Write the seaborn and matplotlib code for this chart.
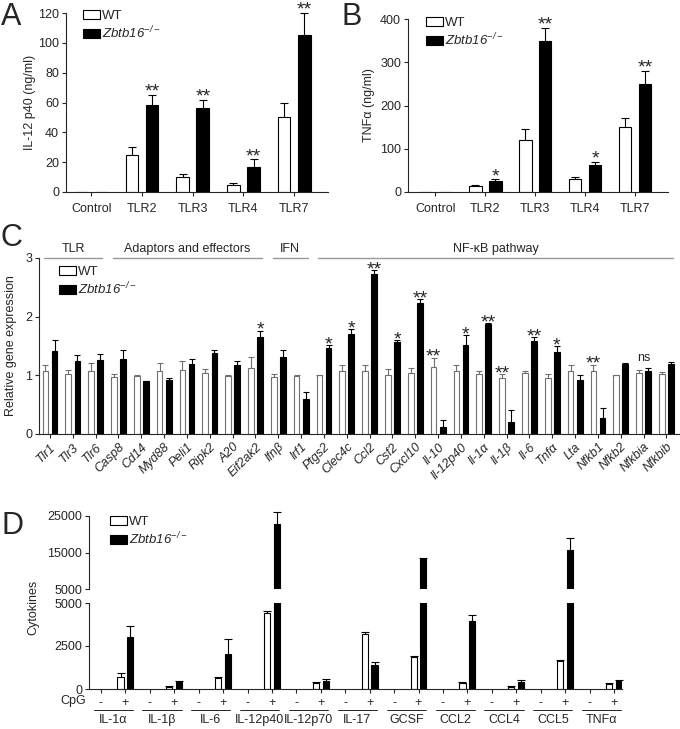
import numpy as np
import pandas as pd
import seaborn as sns
import matplotlib.pyplot as plt
import matplotlib.transforms as mtransforms
from matplotlib.patches import Patch

# ---- panel A / B: TLR stimulation ----
tlr_groups = ["Control", "TLR2", "TLR3", "TLR4", "TLR7"]
il12_wt = [0.3, 25, 10, 5, 50]
il12_wt_err = [0, 5, 2, 1, 10]
il12_ko = [0, 58, 56, 17, 105]
il12_ko_err = [0, 7, 6, 5, 15]
il12_sig = ["", "**", "**", "**", "**"]

tnf_wt = [0, 15, 120, 30, 150]
tnf_wt_err = [0, 2, 25, 5, 20]
tnf_ko = [0, 25, 350, 62, 250]
tnf_ko_err = [0, 4, 30, 8, 30]
tnf_sig = ["", "*", "**", "*", "**"]

# ---- panel C: relative gene expression ----
genes = ["Tlr1", "Tlr3", "Tlr6", "Casp8", "Cd14", "Myd88", "Peli1", "Ripk2", "A20",
         "Eif2ak2", "Ifnβ", "Irf1", "Ptgs2", "Clec4c", "Ccl2", "Csf2", "Cxcl10",
         "Il-10", "Il-12p40", "Il-1α", "Il-1β", "Il-6", "Tnfα", "Lta", "Nfkb1",
         "Nfkb2", "Nfkbia", "Nfkbib"]
gene_wt = [1.07, 1.02, 1.07, 0.97, 0.99, 1.07, 1.09, 1.04, 0.99, 1.12, 0.97, 0.99, 1.0, 1.07,
           1.07, 1.0, 1.04, 1.14, 1.07, 1.02, 0.96, 1.04, 0.96, 1.07, 1.07, 1.0, 1.04, 1.02]
gene_wt_err = [0.11, 0.07, 0.14, 0.05, 0.01, 0.14, 0.15, 0.06, 0.01, 0.19, 0.05, 0.01, 0.01, 0.11,
               0.11, 0.1, 0.09, 0.16, 0.11, 0.06, 0.06, 0.04, 0.07, 0.11, 0.11, 0.01, 0.05, 0.03]
gene_ko = [1.42, 1.25, 1.26, 1.28, 0.9, 0.92, 1.19, 1.38, 1.18, 1.66, 1.31, 0.59, 1.46, 1.7,
           2.73, 1.56, 2.23, 0.12, 1.52, 1.88, 0.2, 1.59, 1.39, 0.92, 0.28, 1.19, 1.08, 1.19]
gene_ko_err = [0.19, 0.1, 0.1, 0.15, 0.01, 0.04, 0.09, 0.05, 0.07, 0.1, 0.12, 0.13, 0.05, 0.09,
               0.06, 0.04, 0.07, 0.12, 0.16, 0.01, 0.21, 0.06, 0.11, 0.08, 0.16, 0.02, 0.05, 0.04]
gene_sig = ["", "", "", "", "", "", "", "", "", "*", "", "", "*", "*", "**", "*", "**",
            "**", "*", "**", "**", "**", "*", "", "**", "", "ns", ""]
gene_groups = ["TLR", "Adaptors and effectors", "IFN", "NF-κB pathway"]
gene_group_sizes = [3, 7, 2, 16]

# ---- panel D: cytokines after CpG ----
cytokines = ["IL-1α", "IL-1β", "IL-6", "IL-12p40", "IL-12p70", "IL-17", "GCSF",
             "CCL2", "CCL4", "CCL5", "TNFα"]
cyt_wt = [715, 116, 640, 4420, 350, 3200, 1860, 350, 120, 1630, 290]
cyt_wt_err = [215, 30, 60, 130, 60, 100, 80, 50, 30, 60, 50]
cyt_ko = [3040, 425, 2030, 22800, 465, 1400, 13200, 3950, 400, 15700, 470]
cyt_ko_err = [620, 55, 870, 3200, 115, 170, 300, 350, 150, 3300, 40]
cyt_upper_ticks = [5000, 15000, 25000]
cyt_lower_ticks = [0, 2500, 5000]

sns.set_style("ticks")
plt.rcParams["font.family"] = ["Liberation Sans", "DejaVu Sans"]
plt.rcParams["mathtext.fontset"] = "custom"
plt.rcParams["mathtext.rm"] = "Liberation Sans:italic"
plt.rcParams["mathtext.it"] = "Liberation Sans:italic"
plt.rcParams["font.size"] = 9
plt.rcParams["axes.linewidth"] = 0.8

W, H = 680, 729
fig = plt.figure(figsize=(W / 100, H / 100), dpi=100)


def add_ax(x0, x1, ytop, ybot):
    return fig.add_axes([x0 / W, 1 - ybot / H, (x1 - x0) / W, (ybot - ytop) / H])


def bars(ax, cats, wt, ko, order=None):
    df = pd.DataFrame({"cat": list(cats) * 2,
                       "val": list(wt) + list(ko),
                       "geno": ["WT"] * len(cats) + ["KO"] * len(cats)})
    sns.barplot(data=df, x="cat", y="val", hue="geno", order=order or list(cats),
                hue_order=["WT", "KO"], palette={"WT": "white", "KO": "black"},
                edgecolor="black", linewidth=0.8, width=0.8, gap=0.375,
                errorbar=None, legend=False, ax=ax)
    xs = [sorted(p.get_x() + p.get_width() / 2 for p in c) for c in ax.containers[:2]]
    return np.array(xs[0]), np.array(xs[1])


def errs(ax, xs, ys, es, color="black", cap=6, keep=None):
    xs, ys, es = np.asarray(xs), np.asarray(ys, float), np.asarray(es, float)
    m = es > 0
    if keep is not None:
        m &= keep
    ax.vlines(xs[m], ys[m], ys[m] + es[m], color=color, lw=0.8, clip_on=False, zorder=3)
    ax.plot(xs[m], ys[m] + es[m], ls="none", marker="_", ms=cap, mew=0.8, color=color,
            clip_on=False, zorder=3)


def star(ax, x, y, s, off=-1.3):
    if s == "ns":
        ax.annotate(s, (x, y), xytext=(0, 4.5), textcoords="offset points",
                    ha="center", va="baseline", fontsize=9)
    elif s:
        ax.annotate(s, (x, y), xytext=(0, off), textcoords="offset points",
                    ha="center", va="baseline", fontsize=14)


def legend(ax, x, y):
    handles = [Patch(facecolor="white", edgecolor="black", lw=0.8),
               Patch(facecolor="black", edgecolor="black", lw=0.8)]
    ax.legend(handles, ["WT", r"$Zbtb16^{-/-}$"], loc="upper left",
              bbox_to_anchor=(x / W, 1 - y / H), bbox_transform=fig.transFigure,
              frameon=False, fontsize=9.5, handlelength=1.3, handleheight=0.6,
              handletextpad=0.15, labelspacing=0.2, borderpad=0, borderaxespad=0)


def style(ax):
    sns.despine(ax=ax)
    ax.tick_params(length=3, width=0.8, labelsize=9, pad=2)
    ax.set_xlabel("")


# ---- A ----
axA = add_ax(66, 328, 13, 192)
xw, xk = bars(axA, tlr_groups, il12_wt, il12_ko)
errs(axA, xw, il12_wt, il12_wt_err)
errs(axA, xk, il12_ko, il12_ko_err)
for x, v, e, s in zip(xk, il12_ko, il12_ko_err, il12_sig):
    star(axA, x, v + e, s)
axA.set_ylim(0, 120)
axA.set_yticks([0, 20, 40, 60, 80, 100, 120])
axA.set_xlim(-0.5, 4.67)
style(axA)
axA.tick_params(axis="x", pad=5)
axA.set_ylabel("IL-12 p40 (ng/ml)", fontsize=9)
axA.yaxis.set_label_coords(-0.115, 0.5)
legend(axA, 83, 10)

# ---- B ----
axB = add_ax(408, 668, 19, 192)
xw, xk = bars(axB, tlr_groups, tnf_wt, tnf_ko)
errs(axB, xw, tnf_wt, tnf_wt_err)
errs(axB, xk, tnf_ko, tnf_ko_err)
for x, v, e, s in zip(xk, tnf_ko, tnf_ko_err, tnf_sig):
    star(axB, x, v + e, s)
axB.set_ylim(0, 400)
axB.set_yticks([0, 100, 200, 300, 400])
axB.set_xlim(-0.55, 4.66)
style(axB)
axB.tick_params(axis="x", pad=5)
axB.set_ylabel("TNFα (ng/ml)", fontsize=9)
axB.yaxis.set_label_coords(-0.127, 0.5)
legend(axB, 426, 17)

# ---- C ----
axC = add_ax(39, 679, 258, 434)
xw, xk = bars(axC, genes, gene_wt, gene_ko)
for p in axC.containers[0]:
    p.set_edgecolor("#707070")
errs(axC, xw, gene_wt, gene_wt_err, color="#707070", cap=4)
errs(axC, xk, gene_ko, gene_ko_err, cap=4)
for i, s in enumerate(gene_sig):
    tw = gene_wt[i] + gene_wt_err[i]
    tk = gene_ko[i] + gene_ko_err[i]
    if s == "ns":
        star(axC, (xw[i] + xk[i]) / 2, max(tw, tk), s)
    elif tk >= tw:
        star(axC, xk[i], tk, s, off=-3)
    else:
        star(axC, xw[i], tw, s, off=-3)
axC.set_ylim(0, 3)
axC.set_yticks([0, 1, 2, 3])
axC.set_xlim(-0.48, 27.55)
style(axC)
axC.set_xticks(range(len(genes)))
axC.set_xticklabels(genes, rotation=45, ha="right", rotation_mode="anchor",
                    fontstyle="italic", fontsize=9)
axC.set_ylabel("Relative gene expression", fontsize=9)
axC.yaxis.set_label_coords(-0.034, 0.5)
start = 0
for name, n in zip(gene_groups, gene_group_sizes):
    a, b = start - 0.25, start + n - 1 + 0.3
    axC.plot([a, b], [3, 3], color="#999999", lw=1.0, clip_on=False)
    axC.text((a + b) / 2, 3.05, name, ha="center", va="bottom", fontsize=9)
    start += n
legend(axC, 59, 266)

# ---- D (broken axis) ----
pos_order = []
for c in cytokines:
    pos_order += [c + " -", c + " +"]
plus = [c + " +" for c in cytokines]
axDu = add_ax(89, 622, 516, 589)
axDl = add_ax(89, 622, 603, 689)
for ax in (axDu, axDl):
    xw, xk = bars(ax, plus, cyt_wt, cyt_ko, order=pos_order)
    ax.set_xlim(-0.49, 21.33)
    style(ax)
wt_arr, ko_arr = np.array(cyt_wt), np.array(cyt_ko)
errs(axDl, xw, cyt_wt, cyt_wt_err, keep=wt_arr < 5000)
errs(axDl, xk, cyt_ko, cyt_ko_err, keep=ko_arr < 5000)
errs(axDu, xk, cyt_ko, cyt_ko_err, keep=ko_arr >= 5000)
errs(axDu, xw, cyt_wt, cyt_wt_err, keep=wt_arr >= 5000)

axDu.set_ylim(5000, 25000)
axDu.set_yticks(cyt_upper_ticks)
axDu.spines["bottom"].set_visible(False)
axDu.tick_params(axis="x", bottom=False, labelbottom=False)
axDu.set_ylabel("")
legend(axDu, 110, 516)

axDl.set_ylim(0, 5000)
axDl.set_yticks(cyt_lower_ticks)
axDl.set_ylabel("")
axDl.set_xticks(range(len(pos_order)))
axDl.set_xticklabels(["-", "+"] * len(cytokines), fontsize=9)
axDl.tick_params(axis="x", pad=3)
axDl.text(-0.006, -0.145, "CpG", transform=axDl.transAxes, ha="right", va="center", fontsize=9)
trans = mtransforms.blended_transform_factory(axDl.transData, axDl.transAxes)
for i, c in enumerate(cytokines):
    a, b = 2 * i, 2 * i + 1
    axDl.plot([a - 0.3, b + 0.3], [-0.244, -0.244], color="black", lw=0.6,
              transform=trans, clip_on=False)
    axDl.text((a + b) / 2, -0.36, c, transform=trans, ha="center", va="center", fontsize=9)
fig.text(33 / W, 1 - 607 / H, "Cytokines", rotation=90, ha="center", va="center", fontsize=9)

# panel letters
for lab, x, y in [("A", 1, 2), ("B", 341, 2), ("C", 1, 223), ("D", 1, 511)]:
    fig.text(x / W, 1 - y / H, lab, ha="left", va="top", fontsize=22)

fig.savefig("out.png", dpi=100)
